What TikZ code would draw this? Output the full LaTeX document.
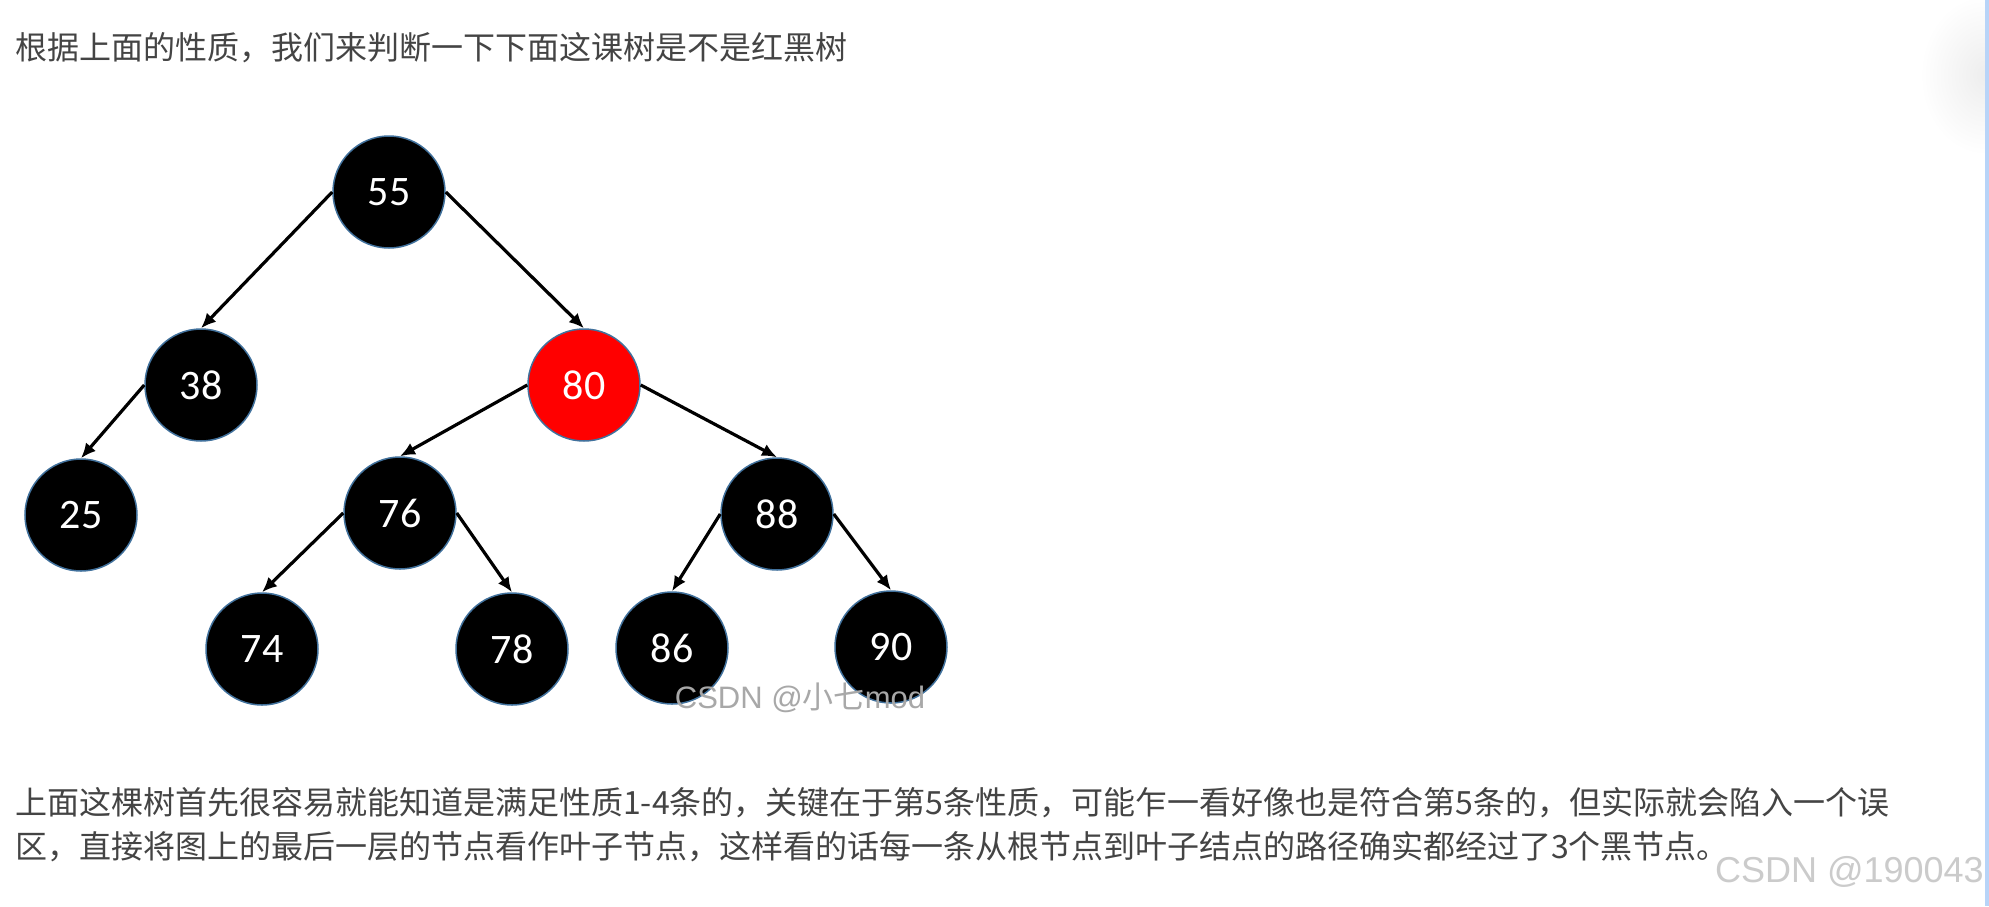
\documentclass[tikz,border=0pt]{standalone}
\usepackage{fontspec}
\usetikzlibrary{positioning,arrows.meta}
\newfontfamily\cjk{Noto Sans CJK SC}
\newfontfamily\numfont{Carlito}
\newfontfamily\wmfont{Liberation Sans}
\definecolor{TextGray}{HTML}{444444}
\definecolor{NodeRim}{HTML}{41719C}
\definecolor{MarkGray}{HTML}{A8A8A8}
\definecolor{MarkLight}{HTML}{CBCBCB}
\definecolor{EdgeBlue}{HTML}{B8D4F8}

\begin{document}
\begin{tikzpicture}[
  x=1pt, y=-1pt,
  rb/.style={circle, draw=NodeRim, line width=1.5pt, minimum size=112pt,
             inner sep=0pt, text=white, font=\numfont\fontsize{42}{42}\selectfont},
  blk/.style={rb, fill=black},
  red/.style={rb, fill=red},
  arr/.style={-{Latex[length=15pt,width=13pt]}, line width=3.2pt},
  para/.style={anchor=west, inner sep=0pt, text=TextGray,
               font=\cjk\fontsize{32}{40}\selectfont},
  wmark/.style={inner sep=0pt, text=MarkGray}
]
\fill[white] (0,0) rectangle (1989,906);
\useasboundingbox (0,0) rectangle (1989,906);
\begin{scope}
  \clip (1900,0) rectangle (1985,160);
  \shade[inner color=black!7, outer color=white] (1985,75) ellipse [x radius=65, y radius=80];
\end{scope}
\fill[EdgeBlue] (1985,0) rectangle (1989,906);

\node[para] (intro) at (15,48) {根据上面的性质，我们来判断一下下面这课树是不是红黑树};

\node[blk] (n55) at (389,192) {55};
\node[blk] (n38) at (201,385) {38};
\node[red] (n80) at (584,385) {80};
\node[blk] (n25) at (81,515)  {25};
\node[blk] (n76) at (400,513) {76};
\node[blk] (n88) at (777,514) {88};
\node[blk] (n74) at (262,649) {74};
\node[blk] (n78) at (512,649) {78};
\node[blk] (n86) at (672,648) {86};
\node[blk] (n90) at (891,647) {90};

\draw[arr] (n55.west) -- (n38.north);
\draw[arr] (n55.east) -- (n80.north);
\draw[arr] (n38.west) -- (n25.north);
\draw[arr] (n80.west) -- (n76.north);
\draw[arr] (n80.east) -- (n88.north);
\draw[arr] (n76.west) -- (n74.north);
\draw[arr] (n76.east) -- (n78.north);
\draw[arr] (n88.west) -- (n86.north);
\draw[arr] (n88.east) -- (n90.north);

\node[wmark, font=\wmfont\fontsize{31}{31}\selectfont] (wmtree) at (800,698)
  {CSDN @{\cjk 小七}mod};

\node[para] (expl1) at (15,803) {上面这棵树首先很容易就能知道是满足性质1-4条的，关键在于第5条性质，可能乍一看好像也是符合第5条的，但实际就会陷入一个误};
\node[para] (expl2) at (15,847) {区，直接将图上的最后一层的节点看作叶子节点，这样看的话每一条从根节点到叶子结点的路径确实都经过了3个黑节点。};

\node[wmark, text=MarkLight, font=\wmfont\fontsize{36}{36}\selectfont, anchor=east]
  (wmpage) at (1984,872) {CSDN @190043};
\end{tikzpicture}
\end{document}
